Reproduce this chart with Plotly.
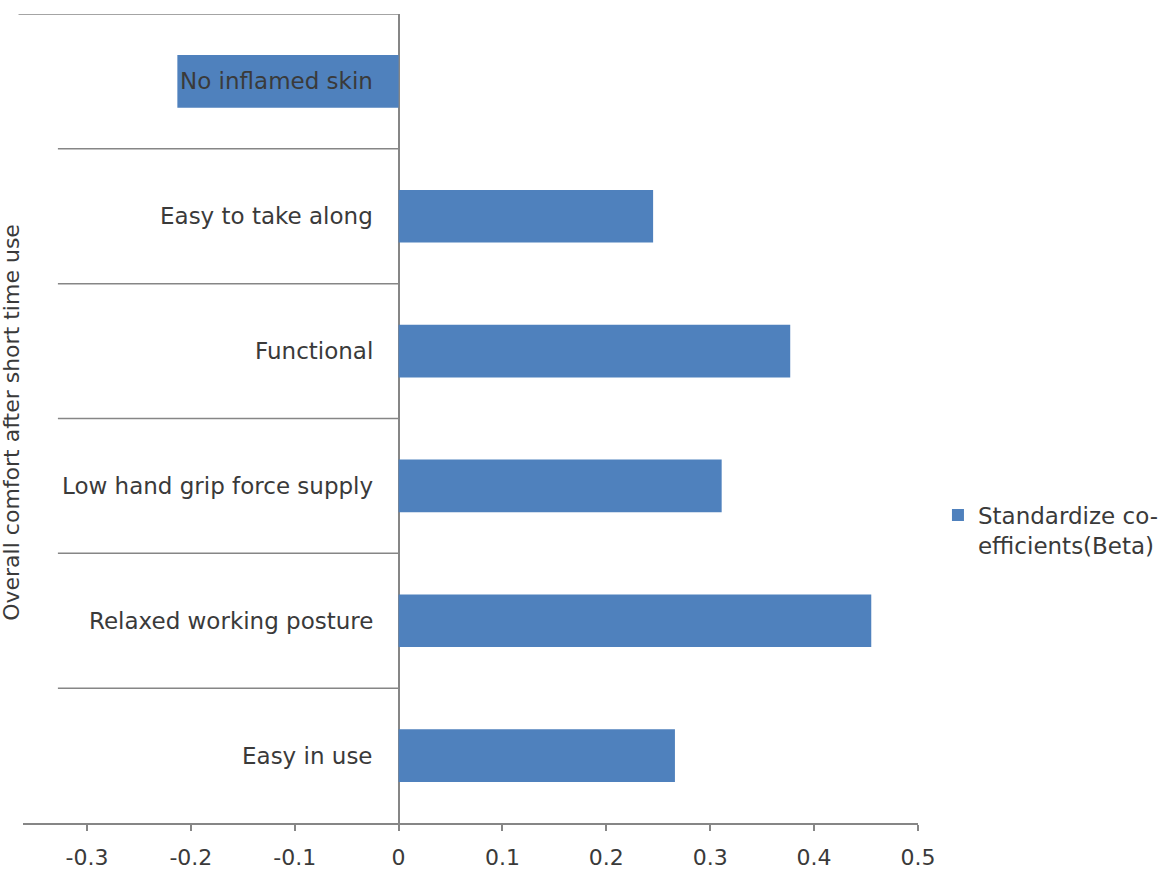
import plotly.graph_objects as go

categories = ["Easy in use", "Relaxed working posture", "Low hand grip force supply",
              "Functional", "Easy to take along", "No inflamed skin"]
values = [0.266, 0.455, 0.311, 0.377, 0.245, -0.213]
series_name = "Standardize co-<br>efficients(Beta)"
axis_title = "Overall comfort after short time use"
x_ticks = [-0.3, -0.2, -0.1, 0, 0.1, 0.2, 0.3, 0.4, 0.5]
x_tick_text = ["-0.3", "-0.2", "-0.1", "0", "0.1", "0.2", "0.3", "0.4", "0.5"]

FONT = "DejaVu Sans"
TXT = "#3a3a3a"
AX = "#868686"
BLUE = "#4F81BD"

ypos = list(range(len(categories)))

fig = go.Figure()
fig.add_trace(go.Bar(
    x=values, y=ypos, orientation="h", name=series_name,
    marker=dict(color=BLUE, line=dict(width=0)), width=0.39,
    showlegend=True, hoverinfo="skip",
))

# category labels next to the vertical axis
for yi, c in zip(ypos, categories):
    fig.add_annotation(x=0, y=yi, xref="x", yref="y", text=c, showarrow=False,
                       xanchor="right", yanchor="middle", xshift=-24,
                       font=dict(family=FONT, size=23, color=TXT))

# category boundary lines
n = len(categories)
for k in range(n):
    b = k + 0.5
    x0 = 0.039 if k < n - 1 else -0.005
    fig.add_shape(type="line", xref="x domain", yref="y", x0=x0, x1=0.4206,
                  y0=b, y1=b, line=dict(color=AX, width=1.5), layer="below")

# outer category label (clipped at the left edge)
fig.add_annotation(xref="paper", yref="paper", x=-0.0125, y=0.4957, text=axis_title,
                   textangle=-90, showarrow=False, xanchor="center", yanchor="middle",
                   font=dict(family=FONT, size=22, color=TXT))

fig.update_layout(
    width=1158, height=871,
    margin=dict(l=23, r=240, t=14, b=48, autoexpand=False),
    paper_bgcolor="white", plot_bgcolor="white",
    xaxis=dict(range=[-0.3616, 0.5], tickvals=x_ticks, ticktext=x_tick_text,
               showgrid=False, zeroline=True, zerolinecolor=AX, zerolinewidth=1.5,
               showline=True, linecolor=AX, linewidth=1.5,
               ticks="outside", ticklen=6, tickcolor=AX, tickwidth=1.5,
               ticklabelstandoff=8, automargin=False,
               tickfont=dict(family=FONT, size=22, color=TXT)),
    yaxis=dict(range=[-0.5, 5.5], showticklabels=False, showgrid=False,
               zeroline=False, showline=False, ticks="", automargin=False),
    legend=dict(x=1.0223, y=0.362, xanchor="left", yanchor="middle",
                font=dict(family=FONT, size=23, color=TXT), valign="top",
                itemwidth=30, bgcolor="rgba(0,0,0,0)"),
    showlegend=True,
)

fig.write_html("out.html")
